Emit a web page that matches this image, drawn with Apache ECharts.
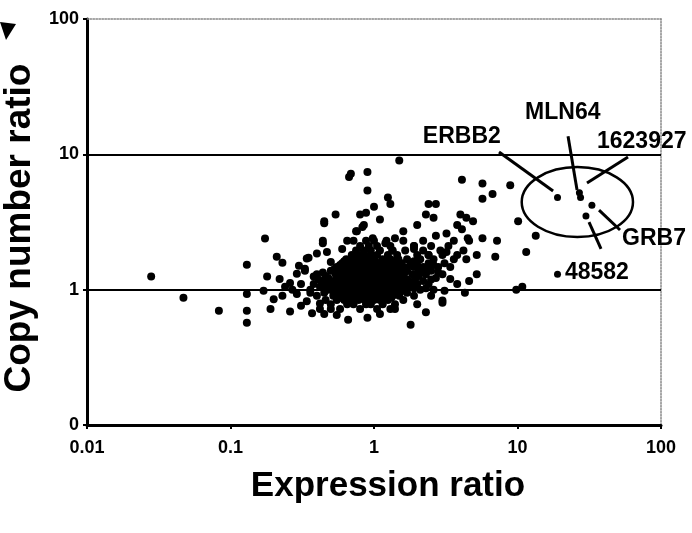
<!DOCTYPE html>
<html>
<head>
<meta charset="utf-8">
<script src="https://cdn.jsdelivr.net/npm/echarts@6/dist/echarts.min.js"></script>
<style>
html, body { margin: 0; padding: 0; background: #fff; }
#chart { width: 692px; height: 533px; }
</style>
</head>
<body>
<div id="chart"></div>
<script>
// tick labels (bottom "0" really stands for 0.1 on the log axis)
var xTickLabels = ['0.01', '0.1', '1', '10', '100'];
var yTickLabels = ['0', '1', '10', '100'];

// scattered genes: [expression ratio, copy number ratio]
var sparsePoints = [
	[0.028, 1.25], [0.047, 0.87], [0.083, 0.70], [0.13, 1.53], [0.13, 0.93], [0.13, 0.70], [0.13, 0.57],
	[0.17, 0.98], [0.174, 2.39], [0.19, 0.72], [0.26, 0.69], [0.21, 1.75], [0.23, 1.58], [0.18, 1.25],
	[0.22, 1.2], [0.26, 1.12], [0.29, 1.31], [0.35, 1.72], [0.4, 1.85], [0.44, 2.2], [0.45, 3.1],
	[0.37, 0.67], [0.66, 0.6], [0.5, 0.72], [0.2, 0.85], [0.23, 0.9], [0.29, 0.93], [0.31, 1.1],
	[0.33, 1.38], [0.42, 0.79], [0.34, 1.7], [0.33, 1.43],
	[0.3, 1.5], [0.38, 1.25], [0.36, 0.95], [0.34, 0.82], [0.27, 1.0], [0.24, 1.05], [0.31, 0.76],
	[0.45, 0.66], [0.55, 0.65], [0.9, 0.62], [1.1, 0.66], [1.4, 0.72], [2.0, 0.78], [2.5, 0.9],
	[0.5, 1.6], [0.47, 1.9], [0.6, 2.0], [0.65, 2.3], [1.6, 2.7], [2.0, 3.0], [1.1, 3.3], [1.7, 1.45],
	[0.83, 2.9], [0.76, 2.7], [0.98, 2.4], [1.2, 2.2], [1.34, 1.95],
	[0.67, 6.8], [0.69, 7.2], [0.9, 7.4], [0.9, 5.4], [0.54, 3.6], [0.45, 3.2], [0.44, 2.3],
	[0.8, 3.6], [0.88, 3.7], [0.85, 3.0], [0.75, 2.7],
	[1.5, 9.0], [4.1, 6.5], [5.7, 6.1], [8.9, 5.9], [6.7, 5.1], [5.7, 4.7], [2.4, 4.3], [2.7, 4.3],
	[2.3, 3.6], [2.6, 3.4], [4.0, 3.6], [4.4, 3.4], [4.9, 3.2], [3.8, 3.0], [4.1, 2.8], [2.7, 2.5],
	[3.2, 2.6], [4.5, 2.4], [5.7, 2.4], [7.2, 2.3], [10.1, 3.2], [1.25, 4.8], [1.3, 4.3], [1.0, 4.1],
	[1.9, 2.1], [1.4, 2.4], [13.4, 2.5], [11.5, 1.9], [9.8, 1.0], [10.8, 1.05],
	[1.8, 0.55], [2.3, 0.68], [3.0, 0.83], [5.2, 1.8], [7.0, 1.75], [5.2, 1.3], [4.6, 1.16],
	[4.3, 0.95], [3.1, 0.98], [3.0, 0.8], [3.8, 1.1], [3.4, 1.2], [3.2, 1.9], [2.4, 1.8], [1.9, 2.0]
];

// dense cloud around 1:1, one row per copy number level
var clusterY = [0.72, 0.78, 0.84, 0.87, 0.9, 0.95, 0.975, 1.0, 1.025, 1.05, 1.075, 1.1, 1.13, 1.16, 1.19,
	1.22, 1.26, 1.3, 1.34, 1.38, 1.42, 1.47, 1.52, 1.57, 1.62, 1.68, 1.8, 1.95, 2.1, 2.3];
var clusterX = [
	[0.42, 0.58, 0.8, 1.05, 1.3],
	[0.5, 0.65, 0.72, 0.88, 0.95, 1.15, 1.4],
	[0.46, 0.55, 0.62, 0.7, 0.78, 0.86, 0.92, 1.0, 1.1, 1.25, 1.6],
	[0.58, 0.68, 0.76, 0.83, 0.9, 0.98, 1.08, 1.18, 1.32],
	[0.4, 0.52, 0.6, 0.66, 0.73, 0.8, 0.85, 0.9, 0.96, 1.03, 1.12, 1.2, 1.35, 1.5, 1.9],
	[0.45, 0.56, 0.63, 0.7, 0.76, 0.82, 0.88, 0.93, 0.98, 1.06, 1.15, 1.28, 1.42, 1.7],
	[0.52, 0.6, 0.67, 0.73, 0.8, 0.86, 0.92, 1.02, 1.1, 1.22, 1.36, 1.55],
	[0.36, 0.48, 0.55, 0.61, 0.68, 0.74, 0.79, 0.84, 0.9, 0.95, 1.0, 1.08, 1.18, 1.3, 1.45, 1.62, 2.1, 2.6],
	[0.45, 0.53, 0.62, 0.72, 0.8, 0.89, 0.94, 1.06, 1.15, 1.25, 1.5, 1.9, 2.3],
	[0.42, 0.5, 0.58, 0.64, 0.7, 0.77, 0.82, 0.87, 0.92, 0.97, 1.04, 1.12, 1.22, 1.38, 1.55, 1.8],
	[0.55, 0.63, 0.69, 0.75, 0.84, 0.93, 0.99, 1.07, 1.2, 1.33, 1.7],
	[0.38, 0.46, 0.53, 0.6, 0.67, 0.73, 0.8, 0.85, 0.9, 0.95, 1.01, 1.09, 1.16, 1.26, 1.4, 1.65, 2.0, 2.4],
	[0.5, 0.57, 0.63, 0.7, 0.76, 0.82, 0.87, 0.92, 0.98, 1.04, 1.11, 1.2, 1.32, 1.45, 1.6, 1.9],
	[0.44, 0.52, 0.59, 0.65, 0.71, 0.78, 0.83, 0.88, 0.94, 1.0, 1.06, 1.14, 1.24, 1.35, 1.5, 1.75, 2.2],
	[0.41, 0.55, 0.62, 0.68, 0.74, 0.8, 0.86, 0.91, 0.97, 1.03, 1.1, 1.19, 1.28, 1.42, 1.7, 2.5],
	[0.48, 0.56, 0.62, 0.69, 0.75, 0.81, 0.87, 0.93, 0.99, 1.07, 1.17, 1.3, 1.45, 1.62, 1.95, 2.7],
	[0.46, 0.58, 0.64, 0.7, 0.77, 0.83, 0.89, 0.95, 1.01, 1.09, 1.18, 1.27, 1.52, 2.05],
	[0.4, 0.54, 0.6, 0.66, 0.72, 0.79, 0.85, 0.91, 0.97, 1.05, 1.12, 1.22, 1.38, 1.58, 1.85, 2.3, 3.0],
	[0.44, 0.56, 0.63, 0.69, 0.75, 0.81, 0.88, 0.94, 1.0, 1.08, 1.16, 1.28, 1.44, 1.64, 2.15, 2.8],
	[0.5, 0.58, 0.65, 0.72, 0.78, 0.84, 0.9, 0.96, 1.03, 1.1, 1.2, 1.32, 1.5, 1.7, 2.05, 2.5],
	[0.53, 0.61, 0.68, 0.74, 0.81, 0.87, 0.93, 1.0, 1.15, 1.35, 1.56, 2.4],
	[0.55, 0.63, 0.7, 0.77, 0.83, 0.89, 0.95, 1.02, 1.1, 1.25, 1.42, 1.62, 1.9, 2.2, 2.8, 3.4],
	[0.58, 0.66, 0.73, 0.8, 0.86, 0.93, 1.05, 1.15, 1.3, 1.48, 2.0, 2.6],
	[0.6, 0.68, 0.75, 0.82, 0.9, 0.98, 1.08, 1.2, 1.38, 1.55, 1.8, 2.4, 3.1],
	[0.62, 0.7, 0.78, 0.85, 0.93, 1.02, 1.22, 1.4, 1.9],
	[0.64, 0.72, 0.8, 0.88, 0.97, 1.15, 1.3, 1.48, 1.7, 2.1, 2.6, 3.6, 4.4],
	[0.7, 0.78, 0.86, 0.95, 1.05, 1.25, 1.45, 2.0, 2.4, 3.0, 3.8],
	[0.75, 0.85, 0.95, 1.1, 1.35, 1.65, 2.2, 2.9, 4.2],
	[0.8, 0.92, 1.05, 1.3, 1.9, 2.5, 3.3],
	[0.72, 0.88, 1.0, 1.22, 1.6, 2.2, 3.6, 4.6]
];

// amplicon genes (17q12) inside the ring
var ampliconPoints = [[19, 4.8], [27, 5.2], [27.5, 4.8], [33, 4.2], [30, 3.5], [19, 1.3]];

// annotations
var labelNames = ['ERBB2', 'MLN64', '1623927', 'GRB7', '48582'];
var labelAnchors = [[2.19, 13.4], [11.3, 20.2], [35.8, 12.5], [53.5, 2.4], [21.4, 1.33]];
var leaderLines = [
	[[7.43, 10.4], [17.7, 5.36]],
	[[22.5, 13.6], [26.0, 5.45]],
	[[58.9, 9.55], [30.5, 6.14]],
	[[37.0, 3.87], [51.8, 2.76]],
	[[31.5, 3.16], [38.2, 2.0]]
];
var ellipseBox = { x: [10.7, 63.8], y: [2.45, 8.05] };

var clusterPoints = [];
for (var i = 0; i < clusterY.length; i++) {
	for (var j = 0; j < clusterX[i].length; j++) {
		clusterPoints.push([clusterX[i][j], clusterY[i]]);
	}
}

var labelData = [];
for (var k = 0; k < labelNames.length; k++) {
	labelData.push({ name: labelNames[k], value: labelAnchors[k] });
}

var font = 'Liberation Sans, Arial, sans-serif';

var option = {
	animation: false,
	grid: { left: 87, right: 31, top: 19, bottom: 108, outerBoundsMode: 'none' },
	xAxis: [{
		type: 'log', logBase: 10, min: 0.01, max: 100,
		name: 'Expression ratio', nameLocation: 'middle', nameGap: 44,
		nameTextStyle: { fontFamily: font, fontWeight: 'bold', fontSize: 35, color: '#000', padding: [0, 0, 0, 28] },
		axisLine: { lineStyle: { color: '#000', width: 3 } },
		axisTick: { show: true, length: 4, lineStyle: { color: '#000', width: 2 } },
		axisLabel: {
			margin: 14, fontFamily: font, fontWeight: 'bold', fontSize: 18, color: '#000',
			formatter: function (v) { return xTickLabels[Math.round(Math.log10(v)) + 2]; }
		},
		splitLine: { show: false },
		minorTick: { show: false }
	}, {
		type: 'log', logBase: 10, min: 0.01, max: 100, position: 'top',
		axisLine: { lineStyle: { color: '#888', width: 1.5, type: 'dotted' } },
		axisTick: { show: false }, axisLabel: { show: false }, splitLine: { show: false }
	}],
	yAxis: [{
		type: 'log', logBase: 10, min: 0.1, max: 100,
		name: 'Copy number ratio', nameLocation: 'middle', nameGap: 46, nameRotate: 90,
		nameTextStyle: { fontFamily: font, fontWeight: 'bold', fontSize: 37, color: '#000', padding: [0, 12, 0, 0] },
		axisLine: { lineStyle: { color: '#000', width: 3 } },
		axisTick: { show: true, length: 4, lineStyle: { color: '#000', width: 2 } },
		axisLabel: {
			margin: 8, fontFamily: font, fontWeight: 'bold', fontSize: 18, color: '#000',
			formatter: function (v) { return yTickLabels[Math.round(Math.log10(v)) + 1]; }
		},
		splitLine: { show: false },
		minorTick: { show: false }
	}, {
		type: 'log', logBase: 10, min: 0.1, max: 100, position: 'right',
		axisLine: { lineStyle: { color: '#888', width: 1.5, type: 'dotted' } },
		axisTick: { show: false }, axisLabel: { show: false }, splitLine: { show: false }
	}],
	series: [
		{
			name: 'genes',
			type: 'scatter',
			data: sparsePoints.concat(clusterPoints),
			symbolSize: 8,
			itemStyle: { color: '#000', opacity: 1 },
			markLine: {
				silent: true, symbol: 'none', label: { show: false },
				lineStyle: { color: '#000', width: 2, type: 'solid' },
				data: [{ yAxis: 1 }, { yAxis: 10 }]
			},
			z: 3
		},
		{
			name: 'amplicon',
			type: 'scatter',
			data: ampliconPoints,
			symbolSize: 7,
			itemStyle: { color: '#000', opacity: 1 },
			markLine: {
				silent: true, symbol: 'none', label: { show: false },
				lineStyle: { color: '#000', width: 3, type: 'solid' },
				data: leaderLines.map(function (p) {
					return [{ coord: p[0] }, { coord: p[1] }];
				})
			},
			z: 3
		},
		{
			name: 'labels',
			type: 'scatter',
			data: labelData,
			symbolSize: 0,
			itemStyle: { color: '#000', opacity: 1 },
			label: {
				show: true, position: [0, 0], align: 'left', verticalAlign: 'middle', opacity: 1,
				formatter: '{b}', fontFamily: font, fontWeight: 'bold', fontSize: 23, color: '#000',
				textBorderWidth: 0
			},
			z: 4
		}
	]
};

var chart = echarts.init(document.getElementById('chart'));
chart.setOption(option);

// ring around the amplicon, placed through the axes
var p0 = chart.convertToPixel({ gridIndex: 0 }, [ellipseBox.x[0], ellipseBox.y[0]]);
var p1 = chart.convertToPixel({ gridIndex: 0 }, [ellipseBox.x[1], ellipseBox.y[1]]);
chart.setOption({
	graphic: [
		{
			type: 'ellipse',
			shape: {
				cx: (p0[0] + p1[0]) / 2, cy: (p0[1] + p1[1]) / 2,
				rx: Math.abs(p1[0] - p0[0]) / 2, ry: Math.abs(p1[1] - p0[1]) / 2
			},
			style: { fill: 'none', stroke: '#000', lineWidth: 2.5 },
			z: 5
		},
		{
			// corner of the panel letter cut off in the scan
			type: 'polygon',
			shape: { points: [[0, 22], [16, 24], [6, 40]] },
			style: { fill: '#000' }
		}
	]
});
</script>
</body>
</html>
